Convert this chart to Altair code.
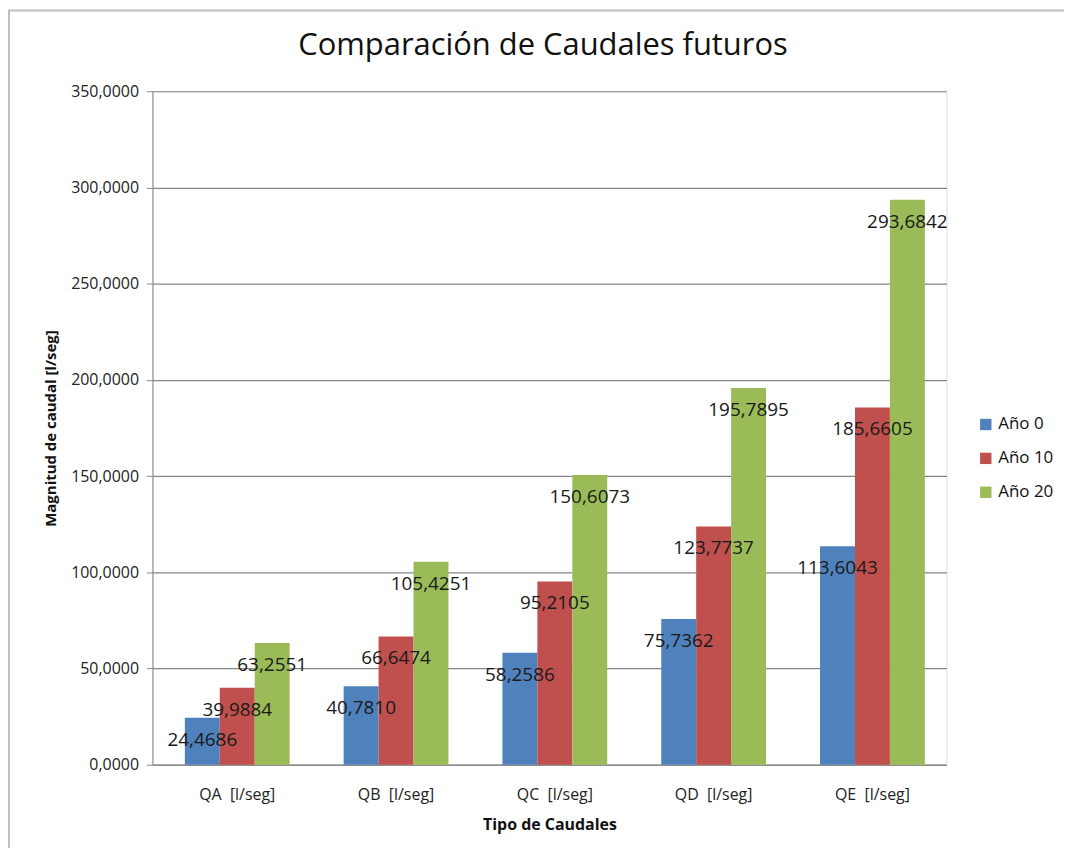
import altair as alt
import pandas as pd

categories = ["QA \u00a0[l/seg]", "QB \u00a0[l/seg]", "QC \u00a0[l/seg]", "QD \u00a0[l/seg]", "QE \u00a0[l/seg]"]
series = ["Año 0", "Año 10", "Año 20"]
anio0 = [24.4686, 40.7810, 58.2586, 75.7362, 113.6043]
anio10 = [39.9884, 66.6474, 95.2105, 123.7737, 185.6605]
anio20 = [63.2551, 105.4251, 150.6073, 195.7895, 293.6842]
colors = ["#4F81BD", "#C0504D", "#9BBB59"]
title_text = "Comparación de Caudales futuros"

rows = []
for s, vals in zip(series, [anio0, anio10, anio20]):
    for c, v in zip(categories, vals):
        rows.append({"cat": c, "serie": s, "valor": v})
df = pd.DataFrame(rows)

FONT = "Open Sans"

x = alt.X("cat:N", sort=categories, title="Tipo de Caudales",
          scale=alt.Scale(paddingInner=0.34, paddingOuter=0.17, align=0.6),
          axis=alt.Axis(labelAngle=0, labelFontSize=16, labelColor="#222222", labelFont=FONT,
                        labelPadding=22, ticks=False, domainColor="#868686",
                        titleFontSize=16, titleFont=FONT, titleFontWeight="bold",
                        titlePadding=14, titleColor="#111111"))
xo = alt.XOffset("serie:N", sort=series)
y = alt.Y("valor:Q", title="Magnitud de caudal [l/seg]",
          scale=alt.Scale(domain=[0, 350], nice=False),
          axis=alt.Axis(values=[0, 50, 100, 150, 200, 250, 300, 350],
                        labelExpr="replace(format(datum.value, '.4f'), '.', ',')",
                        labelFontSize=16, labelColor="#222222", labelFont=FONT, labelPadding=8,
                        tickSize=6, tickColor="#868686", domainColor="#868686",
                        gridColor="#868686", gridWidth=1.2,
                        titleFontSize=15, titleFont=FONT, titleFontWeight="bold",
                        titlePadding=12, titleColor="#111111"))

bars = alt.Chart(df).mark_bar().encode(
    x=x, xOffset=xo, y=y,
    color=alt.Color("serie:N", sort=series,
                    scale=alt.Scale(domain=series, range=colors),
                    legend=alt.Legend(title=None, symbolType="square", symbolSize=130,
                                      labelFontSize=17, labelFont=FONT, labelColor="#111111",
                                      rowPadding=16, orient="none", legendX=828, legendY=326)),
)

labels = alt.Chart(df).transform_calculate(
    lab="replace(format(datum.valor, '.4f'), '.', ',')"
).mark_text(fontSize=19, font=FONT, color="#1a1a1a", dy=22, baseline="middle").encode(
    x=x, xOffset=xo, y=y, text="lab:N"
)

title = alt.Chart(pd.DataFrame({"t": [title_text]})).mark_text(
    fontSize=31, font=FONT, color="#111111", baseline="middle", align="center"
).encode(x=alt.value(392), y=alt.value(-45), text="t:N")

frame = alt.Chart(pd.DataFrame({"a": [0]})).mark_rect(
    fill=None, stroke="#BFBFBF", strokeWidth=2
).encode(x=alt.value(-144), x2=alt.value(1100), y=alt.value(-81), y2=alt.value(900))

chart = alt.layer(frame, bars, labels, title).properties(
    width=797, height=676,
    autosize=alt.AutoSizeParams(type="none"),
    padding={"left": 145, "top": 82, "right": 118, "bottom": 82},
).configure_view(stroke=None).configure(background="white")

chart.save("out.html", embed_options={"renderer": "svg", "actions": False})
